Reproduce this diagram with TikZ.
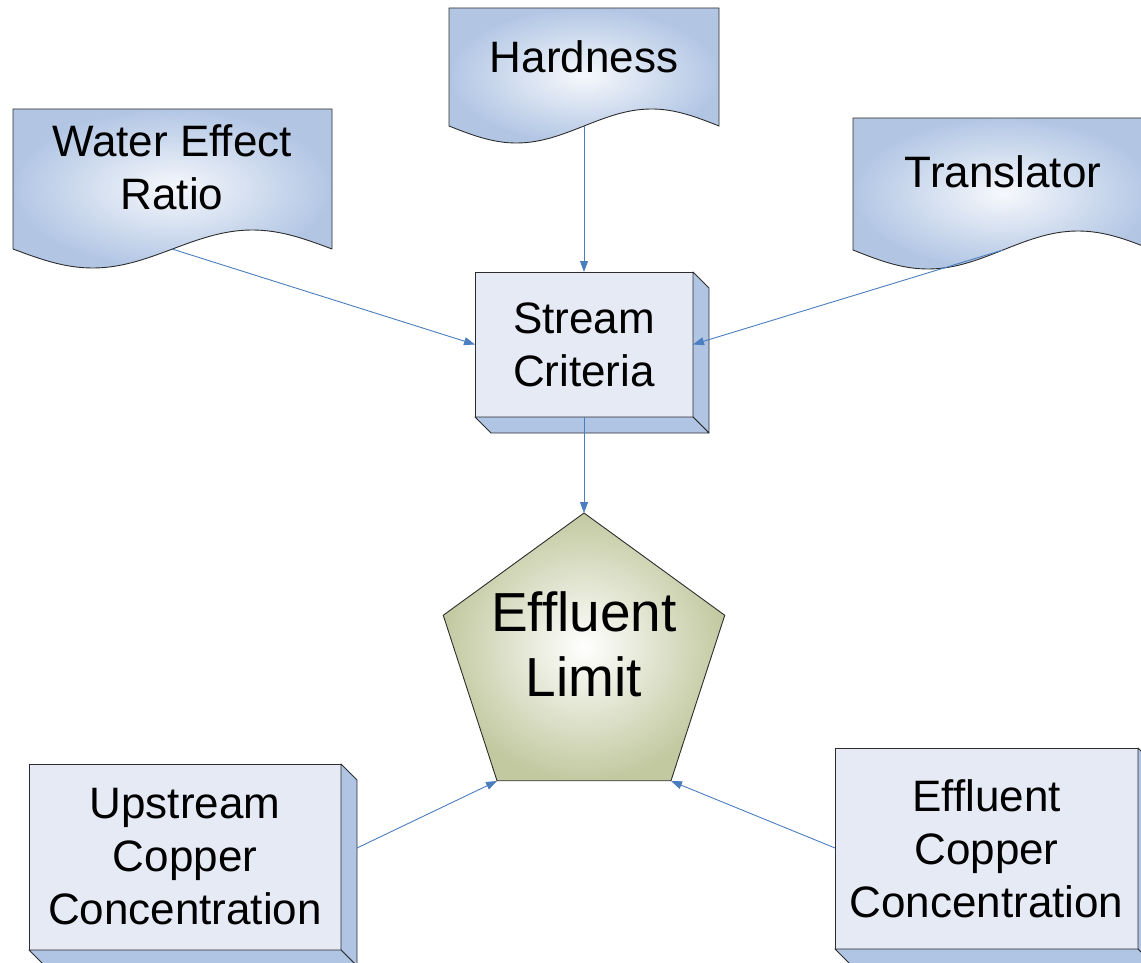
\documentclass[tikz,border=0pt]{standalone}
\usepackage{fontspec}
\setmainfont{Liberation Sans}
\usetikzlibrary{arrows.meta,shapes.geometric}
\definecolor{docin}{RGB}{246,248,252}
\definecolor{docout}{RGB}{178,198,228}
\definecolor{facefill}{RGB}{230,234,245}
\definecolor{sidefill}{RGB}{176,196,228}
\definecolor{pentfill}{RGB}{194,201,160}
\definecolor{arrowblue}{RGB}{74,126,190}
\definecolor{edgegray}{RGB}{45,45,45}
\begin{document}
\begin{tikzpicture}[x=1pt,y=-1pt,
  lbl/.style={align=center,font=\fontsize{44pt}{53pt}\selectfont,inner sep=0pt},
  biglbl/.style={align=center,font=\fontsize{55pt}{65pt}\selectfont,inner sep=0pt},
  docshape/.style={draw=edgegray,line width=0.9pt,inner color=docin,outer color=docout},
  frontbox/.style={draw=edgegray,line width=0.9pt,fill=facefill,rectangle,outer sep=0pt,inner sep=0pt,align=center,font=\fontsize{44pt}{53pt}\selectfont},
  sideface/.style={draw=edgegray,line width=0.9pt,fill=sidefill,line join=round},
  conn/.style={draw=arrowblue,line width=0.9pt,-{Triangle[length=11pt,width=8pt]}}]
\useasboundingbox (0,0) rectangle (1141,963);
\clip (0,0) rectangle (1141,963);

% document shapes
\shadedraw[docshape] (13,249) -- (13,109) -- (332,109) -- (332,249)
  -- plot[domain=360:0,samples=60] ({13+0.88611*\x},{249+19*sin(\x)}) -- cycle;
\node[lbl] (wer) at (172,167.5) {Water Effect\\Ratio};
\coordinate (werb) at (172,249);

\shadedraw[docshape] (449,126) -- (449,8) -- (719,8) -- (719,126)
  -- plot[domain=360:0,samples=60] ({449+0.75*\x},{126+17*sin(\x)}) -- cycle;
\node[lbl] (hard) at (584,57) {Hardness};
\coordinate (hardb) at (584,126);

\shadedraw[docshape] (853,250) -- (853,118) -- (1153,118) -- (1153,250)
  -- plot[domain=360:0,samples=60] ({853+0.83333*\x},{250+19*sin(\x)}) -- cycle;
\node[lbl] (trans) at (1003,171.5) {Translator};
\coordinate (transb) at (1003,250);

% 3D boxes
\node[frontbox,minimum width=218pt,minimum height=145pt] (sc) at (584,344.5) {Stream\\Criteria};
\filldraw[sideface] (sc.north east) -- ++(16,16) -- ([shift={(16,16)}]sc.south east) -- (sc.south east) -- cycle;
\filldraw[sideface] (sc.south west) -- ++(16,16) -- ([shift={(16,16)}]sc.south east) -- (sc.south east) -- cycle;

\node[frontbox,minimum width=312pt,minimum height=186pt] (up) at (185,857) {Upstream\\Copper\\Concentration};
\filldraw[sideface] (up.north east) -- ++(16,16) -- ([shift={(16,16)}]up.south east) -- (up.south east) -- cycle;
\filldraw[sideface] (up.south west) -- ++(16,16) -- ([shift={(16,16)}]up.south east) -- (up.south east) -- cycle;
\coordinate (upr) at (357,848);

\node[frontbox,minimum width=303pt,minimum height=201pt] (ec) at (986.5,848.5) {Effluent\\Copper\\Concentration};
\filldraw[sideface] (ec.north east) -- ++(16,16) -- ([shift={(16,16)}]ec.south east) -- (ec.south east) -- cycle;
\filldraw[sideface] (ec.south west) -- ++(16,16) -- ([shift={(16,16)}]ec.south east) -- (ec.south east) -- cycle;
\coordinate (ecl) at (835,848);

% pentagon
\node[regular polygon,regular polygon sides=5,minimum size=296pt,draw=edgegray,line width=0.9pt,
  inner color=white,outer color=pentfill,inner sep=0pt,outer sep=0pt] (el) at (584,661) {};
\node[biglbl] (ellbl) at (584,644.5) {Effluent\\Limit};
\coordinate (eltop) at (584,513);
\coordinate (elbl) at (497,781);
\coordinate (elbr) at (671,781);

% connectors
\draw[conn] (werb) -- (sc.west);
\draw[conn] (hardb) -- (sc.north);
\draw[conn] (transb) -- (sc.east);
\draw[conn] (sc.south) -- (eltop);
\draw[conn] (upr) -- (elbl);
\draw[conn] (ecl) -- (elbr);
\end{tikzpicture}
\end{document}
